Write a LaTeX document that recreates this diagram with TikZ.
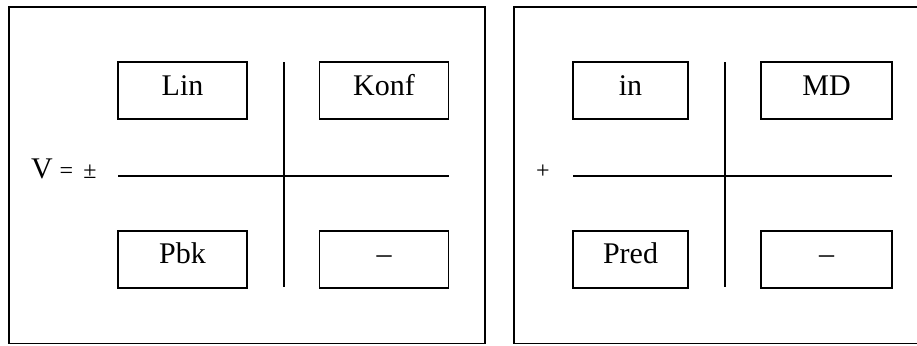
\documentclass[tikz,border=0pt]{standalone}
\usepackage{fontspec}
\setmainfont{Liberation Serif}
\begin{document}
\begin{tikzpicture}[x=1pt,y=-1pt,
  frame/.style={draw,line width=1.7pt},
  cell/.style={draw,line width=1.6pt,minimum width=129pt,minimum height=57pt,inner sep=0pt},
  axis/.style={line width=1.6pt},
  lbl/.style={font=\fontsize{30}{31}\selectfont,anchor=base,inner sep=0pt},
  sml/.style={font=\fontsize{24}{25}\selectfont,anchor=base,inner sep=0pt}]
\useasboundingbox (0,0) rectangle (917,345);
\begin{scope}
\clip (0,0) rectangle (917,345);
\draw[frame] (9,7) rectangle (485,343.5);
\draw[frame] (514,7) rectangle (930,343.5);
\end{scope}
% left panel
\node[cell] (lin) at (182.5,90.5) {};
\node[cell] (konf) at (384,90.5) {};
\node[cell] (pbk) at (182.5,259.5) {};
\node[cell] (dl) at (384,259.5) {};
\node[lbl] (tlin) at (182.5,95) {Lin};
\node[lbl] (tkonf) at (384,95) {Konf};
\node[lbl] (tpbk) at (182.5,263) {Pbk};
\node[lbl] (tdl) at (384,263) {–};
\coordinate (lt) at (284,62);
\coordinate (lb) at (284,287);
\coordinate (ll) at (118,176);
\coordinate (lr) at (449,176);
\draw[axis] (lt) -- (lb);
\draw[axis] (ll) -- (lr);
\node[lbl] (v) at (42,178) {V};
\node[sml] (eq) at (66.5,178) {=};
\node[sml] (pm) at (90,178) {±};
% right panel
\node[cell,minimum width=115pt] (in) at (630.5,90.5) {};
\node[cell,minimum width=131pt] (md) at (826.5,90.5) {};
\node[cell,minimum width=115pt] (pred) at (630.5,259.5) {};
\node[cell,minimum width=131pt] (dr) at (826.5,259.5) {};
\node[lbl] (tin) at (630.5,95) {in};
\node[lbl] (tmd) at (826.5,95) {MD};
\node[lbl] (tpred) at (630.5,263) {Pred};
\node[lbl] (tdr) at (826.5,263) {–};
\coordinate (rt) at (725,62);
\coordinate (rb) at (725,287);
\coordinate (rl) at (573,176);
\coordinate (rr) at (892,176);
\draw[axis] (rt) -- (rb);
\draw[axis] (rl) -- (rr);
\node[sml] (plus) at (543,178) {+};
\end{tikzpicture}
\end{document}
